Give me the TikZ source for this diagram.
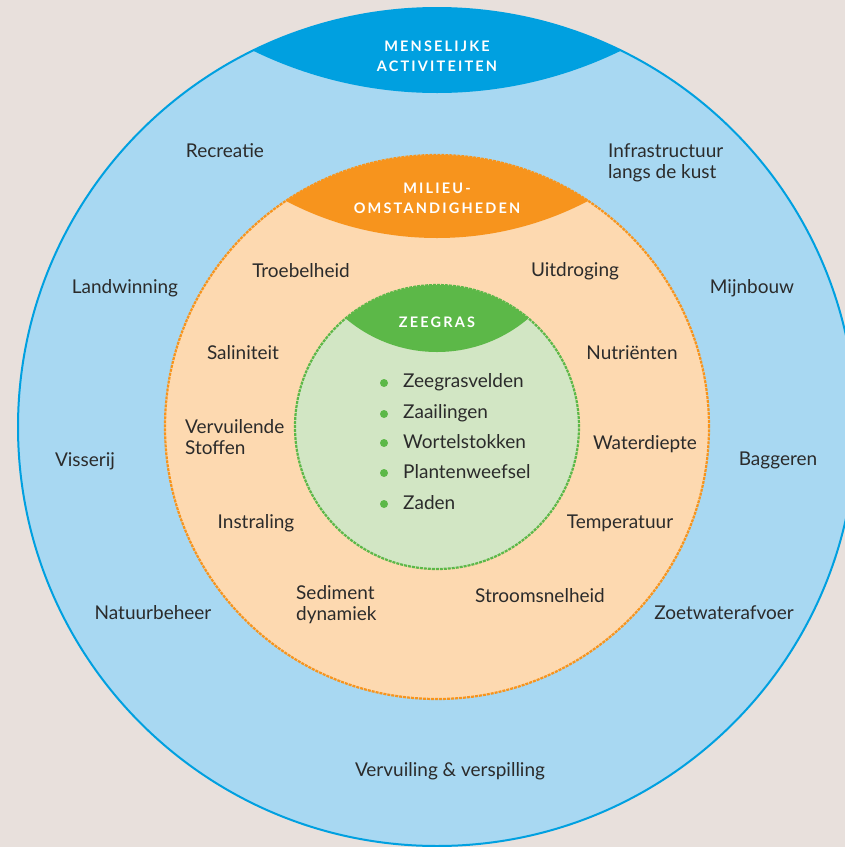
\documentclass[tikz,border=0pt]{standalone}
\usepackage{fontspec}
\setmainfont{Lato}
\definecolor{achtergrond}{HTML}{E8E0DC}
\definecolor{blauwlicht}{HTML}{A8D8F2}
\definecolor{blauw}{HTML}{00A0E0}
\definecolor{perzik}{HTML}{FDD9B0}
\definecolor{oranje}{HTML}{F7941D}
\definecolor{groenlicht}{HTML}{D2E6C4}
\definecolor{groen}{HTML}{5CB848}
\definecolor{tekst}{HTML}{2B2B2B}
\tikzset{
  lbl/.style={font=\fontsize{19}{21}\selectfont, text=tekst, align=left, inner sep=0pt},
  kop/.style={font=\fontsize{14.5}{20}\selectfont\bfseries\addfontfeature{LetterSpace=15}, text=white, align=center, inner sep=0pt},
  bol/.style={circle, fill=groen, inner sep=0pt, minimum size=8pt},
}
\begin{document}
\begin{tikzpicture}[x=1pt,y=-1pt]
\useasboundingbox (0,0) rectangle (845,847);
\fill[achtergrond] (0,0) rectangle (845,847);
\clip (0,0) rectangle (845,847);
\coordinate (m) at (437,427);
% menselijke activiteiten
\fill[blauwlicht] (m) circle[radius=419pt];
\begin{scope}
\clip (m) circle[radius=419pt];
\fill[blauw] (437,-327) circle[radius=420pt];
\end{scope}
\draw[blauw, line width=2pt] (m) circle[radius=419pt];
% milieuomstandigheden
\fill[perzik] (m) circle[radius=272pt];
\begin{scope}
\clip (m) circle[radius=272pt];
\fill[oranje] (437,-88) circle[radius=326pt];
\end{scope}
\draw[oranje, line width=2.2pt, dash pattern=on 3pt off 1pt] (m) circle[radius=272pt];
% zeegras
\fill[groenlicht] (m) circle[radius=142pt];
\begin{scope}
\clip (m) circle[radius=142pt];
\fill[groen] (437,211) circle[radius=141pt];
\end{scope}
\draw[groen, line width=2.2pt, dash pattern=on 3pt off 1pt] (m) circle[radius=142pt];
% koppen
\node[kop] (kmens) at (437,56) {MENSELIJKE\\ACTIVITEITEN};
\node[kop] (kmil) at (437,198) {MILIEU-\\OMSTANDIGHEDEN};
\node[kop] (kzee) at (437,322) {ZEEGRAS};
% zeegras lijst
\foreach \t/\y [count=\i] in {Zeegrasvelden/382, Zaailingen/413, Wortelstokken/442, Plantenweefsel/472, Zaden/503}{
  \node[bol] (b\i) at (384,\y+1) {};
  \node[lbl, anchor=west] (z\i) at (403,\y) {\t};
}
% milieu
\node[lbl] (troebel) at (301,271) {Troebelheid};
\node[lbl] (uitdr) at (575,271) {Uitdroging};
\node[lbl] (salin) at (243,353) {Saliniteit};
\node[lbl] (nutr) at (632,353) {Nutriënten};
\node[lbl, anchor=west] (vervst) at (185,437) {Vervuilende\\Stoffen};
\node[lbl] (waterd) at (645,444) {Waterdiepte};
\node[lbl] (instr) at (256,523) {Instraling};
\node[lbl] (temp) at (620,523) {Temperatuur};
\node[lbl, anchor=west] (sedim) at (296,605) {Sediment\\dynamiek};
\node[lbl] (stroom) at (540,596) {Stroomsnelheid};
% activiteiten
\node[lbl] (recr) at (225,151) {Recreatie};
\node[lbl, anchor=west] (infra) at (608,163) {Infrastructuur\\langs de kust};
\node[lbl] (landw) at (125,288) {Landwinning};
\node[lbl] (mijnb) at (752,288) {Mijnbouw};
\node[lbl] (vis) at (85,461) {Visserij};
\node[lbl] (bagg) at (778,460) {Baggeren};
\node[lbl] (natuur) at (153,613) {Natuurbeheer};
\node[lbl] (zoetw) at (724,613) {Zoetwaterafvoer};
\node[lbl] (vervsp) at (450,771) {Vervuiling \& verspilling};
\end{tikzpicture}
\end{document}
